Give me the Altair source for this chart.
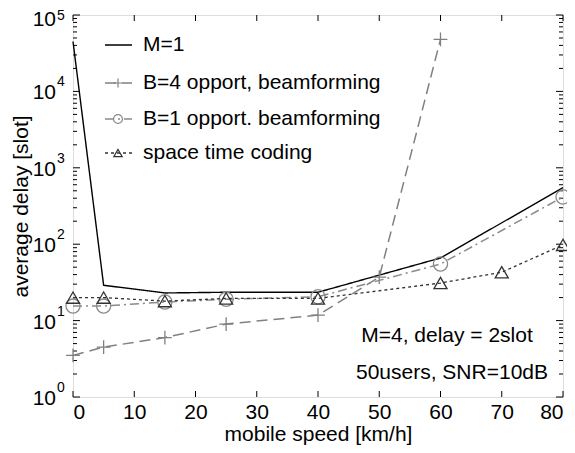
import altair as alt
import pandas as pd

# ---- data ----
speed_m1 = [0, 5, 15, 25, 40, 60, 80]
delay_m1 = [45000, 29, 23, 23.5, 23.5, 66, 550]

speed_b4 = [0, 5, 15, 25, 40, 50, 60]
delay_b4 = [3.5, 4.5, 6, 9, 11.8, 37, 48000]

speed_b1 = [0, 5, 15, 25, 40, 60, 80]
delay_b1 = [15.5, 15.5, 17.5, 19, 20.5, 55, 415]

speed_stc = [0, 5, 15, 25, 40, 60, 70, 80]
delay_stc = [20, 20, 18, 19.5, 19.5, 31, 43, 98]

x_ticks = [0, 10, 20, 30, 40, 50, 60, 70, 80]
y_exponents = [0, 1, 2, 3, 4, 5]
legend_labels = ["M=1", "B=4 opport, beamforming", "B=1 opport. beamforming", "space time coding"]
note_lines = ["M=4, delay = 2slot", "50users, SNR=10dB"]

W, H = 490, 382
FONT = "Liberation Sans"
FS = 21

xs = alt.Scale(domain=[0, 80], nice=False, zero=False)
ys = alt.Scale(type="log", domain=[1, 1e5], nice=False)

PLUS = "M-1,0H1M0,-1V1"

styles = [
    dict(color="black", dash=[1, 0], shape=None, width=1.4),
    dict(color="#808080", dash=[11, 6], shape=PLUS, width=1.5),
    dict(color="#8a8a8a", dash=[9, 4, 2, 4], shape="circle", width=1.5),
    dict(color="#333333", dash=[3, 3], shape="triangle-up", width=1.3),
]
series = [(speed_m1, delay_m1), (speed_b4, delay_b4), (speed_b1, delay_b1), (speed_stc, delay_stc)]
sizes = {PLUS: 190, "circle": 200, "triangle-up": 170}
leg_sizes = {PLUS: 80, "circle": 80, "triangle-up": 70}

layers = []

# base layer with axes
base_df = pd.DataFrame({"s": speed_m1, "d": delay_m1})
axis_layer = alt.Chart(base_df).mark_point(opacity=0).encode(
    x=alt.X("s:Q", scale=xs, axis=alt.Axis(values=x_ticks, title="mobile speed [km/h]", ticks=False, domain=False,
                                            grid=False, labelFontSize=FS, labelPadding=4, titleFontSize=FS,
                                            titlePadding=1, labelColor="black", titleColor="black",
                                            labelFont=FONT, titleFont=FONT, titleFontWeight="normal")),
    y=alt.Y("d:Q", scale=ys, axis=alt.Axis(values=[1, 10, 100, 1000, 10000, 100000], labels=False, ticks=False,
                                            domain=False, grid=False, title="average delay [slot]",
                                            titleFontSize=FS, titlePadding=42, titleColor="black", titleFont=FONT,
                                            titleFontWeight="normal")),
)
layers.append(axis_layer)

# tick marks (inward)
xt = pd.DataFrame({"s": x_ticks})
layers.append(alt.Chart(xt).mark_rule(color="black", strokeWidth=1).encode(
    x=alt.X("s:Q", scale=xs), y=alt.value(H), y2=alt.value(H - 6)))
layers.append(alt.Chart(xt).mark_rule(color="black", strokeWidth=1).encode(
    x=alt.X("s:Q", scale=xs), y=alt.value(0), y2=alt.value(6)))

major = [10 ** e for e in y_exponents]
minor = [m * 10 ** e for e in y_exponents[:-1] for m in range(2, 10)]
ymaj = pd.DataFrame({"d": major})
ymin = pd.DataFrame({"d": minor})
for df, ln in [(ymaj, 7), (ymin, 4)]:
    layers.append(alt.Chart(df).mark_rule(color="black", strokeWidth=1).encode(
        y=alt.Y("d:Q", scale=ys), x=alt.value(0), x2=alt.value(ln)))
    layers.append(alt.Chart(df).mark_rule(color="black", strokeWidth=1).encode(
        y=alt.Y("d:Q", scale=ys), x=alt.value(W - ln), x2=alt.value(W)))

# y tick labels 10^k (the top one is nudged down to stay inside the figure)
ylab = pd.DataFrame({"d": major, "base": ["10"] * len(major), "exp": [str(e) for e in y_exponents]})
ylab_low = ylab[ylab["d"] < 1e5]
ylab_top = ylab[ylab["d"] >= 1e5]
for df, dyb, dye in [(ylab_low, 2, -9), (ylab_top, 5, 1)]:
    layers.append(alt.Chart(df).mark_text(align="right", baseline="middle", fontSize=FS, font=FONT,
                                          color="black", dy=dyb).encode(
        y=alt.Y("d:Q", scale=ys), x=alt.value(-17), text="base:N"))
    layers.append(alt.Chart(df).mark_text(align="left", baseline="middle", fontSize=14, font=FONT,
                                          color="black", dy=dye).encode(
        y=alt.Y("d:Q", scale=ys), x=alt.value(-16), text="exp:N"))

# series
for (sp, dl), st in zip(series, styles):
    df = pd.DataFrame({"s": sp, "d": dl})
    layers.append(alt.Chart(df).mark_line(color=st["color"], strokeDash=st["dash"], strokeWidth=st["width"]).encode(
        x=alt.X("s:Q", scale=xs), y=alt.Y("d:Q", scale=ys)))
    if st["shape"] is not None:
        layers.append(alt.Chart(df).mark_point(shape=st["shape"], filled=False, color=st["color"],
                                               size=sizes[st["shape"]], strokeWidth=1.3, opacity=1).encode(
            x=alt.X("s:Q", scale=xs), y=alt.Y("d:Q", scale=ys)))

# legend (manual)
leg_y = [30, 68, 104, 138]
for lab, st, yy in zip(legend_labels, styles, leg_y):
    dfl = pd.DataFrame({"t": [lab]})
    layers.append(alt.Chart(dfl).mark_rule(color=st["color"], strokeDash=st["dash"], strokeWidth=st["width"]).encode(
        x=alt.value(32), x2=alt.value(59), y=alt.value(yy)))
    if st["shape"] is not None:
        layers.append(alt.Chart(dfl).mark_point(shape=st["shape"], filled=False, color=st["color"],
                                                size=leg_sizes[st["shape"]], strokeWidth=1.2, opacity=1).encode(
            x=alt.value(45), y=alt.value(yy)))
    layers.append(alt.Chart(dfl).mark_text(align="left", baseline="middle", fontSize=FS, font=FONT, color="black").encode(
        x=alt.value(70), y=alt.value(yy), text="t:N"))

# annotations
note_df1 = pd.DataFrame({"t": [note_lines[0]]})
note_df2 = pd.DataFrame({"t": [note_lines[1]]})
layers.append(alt.Chart(note_df1).mark_text(align="center", baseline="middle", fontSize=FS, font=FONT, color="black").encode(
    x=alt.value(374), y=alt.value(321), text="t:N"))
layers.append(alt.Chart(note_df2).mark_text(align="center", baseline="middle", fontSize=FS, font=FONT, color="black").encode(
    x=alt.value(379), y=alt.value(358), text="t:N"))

chart = alt.layer(*layers).properties(
    width=W, height=H,
    autosize=alt.AutoSizeParams(type="none"),
    padding={"left": 65, "top": 7, "right": 4, "bottom": 48},
).configure_view(stroke="black", strokeWidth=1.2).configure(background="white")

chart.save("out.html", embed_options={"renderer": "svg", "actions": False})
